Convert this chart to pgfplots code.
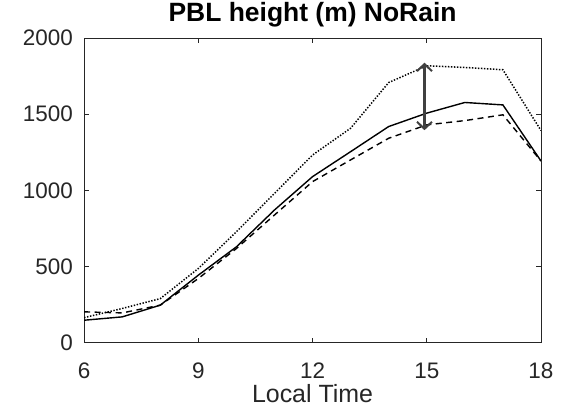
\documentclass[border=0pt]{standalone}
\usepackage{fontspec}
\setmainfont{Liberation Sans}
\usepackage{pgfplots}
\pgfplotsset{compat=1.18}
\usetikzlibrary{arrows.meta}
\definecolor{axgray}{HTML}{262626}
\definecolor{arrgray}{HTML}{404040}
\begin{document}
\begin{tikzpicture}
\begin{axis}[
  scale only axis, width=456bp, height=304bp,
  xmin=6, xmax=18, ymin=0, ymax=2000,
  xtick={6,9,12,15,18}, ytick={0,500,1000,1500,2000},
  tick align=inside, tickpos=both,
  major tick length=5bp,
  axis line style={axgray, line width=0.8bp},
  every tick/.style={axgray, line width=0.8bp},
  ticklabel style={font=\fontsize{22.5}{26}\selectfont, text=axgray, inner sep=0pt},
  xticklabel style={anchor=base, yshift=-36bp},
  yticklabel style={anchor=east, xshift=-11bp},
  /pgf/number format/assume math mode=true,
  /pgf/number format/1000 sep={},
  title={\fontsize{26.5}{30}\selectfont\bfseries PBL height (m) NoRain},
  title style={at={(axis description cs:0.5,1)}, anchor=base, yshift=10.5bp, inner sep=0pt},
  xlabel={\fontsize{25}{29}\selectfont Local Time},
  xlabel style={text=axgray, at={(axis description cs:0.5,0)}, anchor=base, yshift=-60bp, inner sep=0pt},
  clip=true,
]
\addplot[black, line width=1.4bp] coordinates {
(6,147) (7,169) (8,246) (9,443) (10,629) (11,871) (12,1090) (13,1254) (14,1419) (15,1507) (16,1577) (17,1561) (18,1193)};
\addplot[black, line width=1.4bp, dash pattern=on 6bp off 4.5bp] coordinates {
(6,202) (7,195) (8,246) (9,421) (10,618) (11,838) (12,1057) (13,1200) (14,1342) (15,1430) (16,1458) (17,1496) (18,1193)};
\addplot[black, line width=1.5bp, dash pattern=on 1.4bp off 1.6bp] coordinates {
(6,164) (7,224) (8,289) (9,487) (10,728) (11,980) (12,1232) (13,1408) (14,1708) (15,1818) (16,1807) (17,1792) (18,1393)};
\draw[arrgray, line width=2.4bp, {Straight Barb[length=7bp,width=15bp,line width=2bp]}-{Straight Barb[length=7bp,width=15bp,line width=2bp]}]
  (axis cs:14.94,1395) -- (axis cs:14.94,1838);
\end{axis}
\path (current axis.south west) ++(-84bp,-66bp) coordinate (bl);
\path (current axis.north east) ++(22bp,38bp) coordinate (tr);
\useasboundingbox (bl) rectangle (tr);
\end{tikzpicture}
\end{document}
